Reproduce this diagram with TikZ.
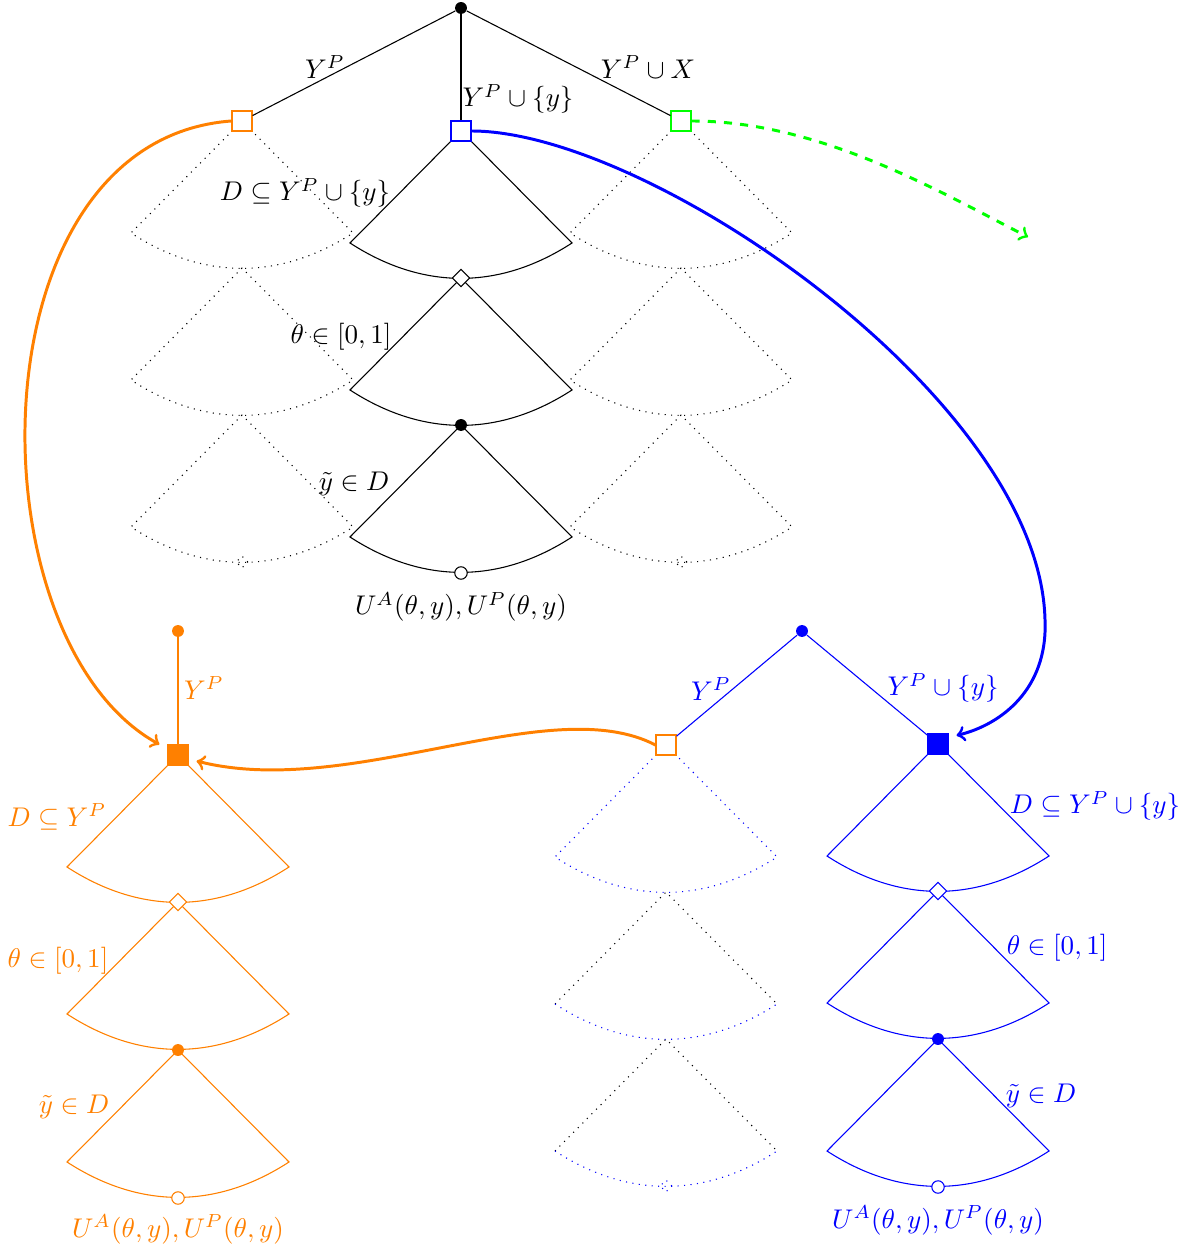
\documentclass[tikz,border=0pt]{standalone}
\usetikzlibrary{shapes.geometric}
\begin{document}
\begin{tikzpicture}[x=0.37pt,y=-0.37pt,
 sq/.style={draw=#1, rectangle, minimum size=7.4pt, inner sep=0pt, fill=white},
 fsq/.style={draw=#1, fill=#1, rectangle, minimum size=7.4pt, inner sep=0pt},
 dot/.style={circle, fill=#1, minimum size=4.4pt, inner sep=0pt},
 dot/.default=black,
 ocirc/.style={circle, draw=#1, fill=white, minimum size=4.6pt, inner sep=0pt},
 ocirc/.default=black,
 dmd/.style={diamond, draw=#1, fill=white, minimum size=6.5pt, inner sep=0pt},
 dmd/.default=black,
 sdmd/.style={diamond, draw=#1, dotted, minimum size=4.5pt, inner sep=0pt},
 sdmd/.default=black,
 lbl/.style={inner sep=1pt},
 fan/.pic={\draw[pic actions] (0,0) -- (-111,112) to[bend right=33] (111,112) -- cycle;},
 fanmix/.pic={\draw[dotted] (-111,112) -- (0,0) -- (111,112);
   \draw[dotted, blue] (-111,112) to[bend right=33] (111,112);},
 thk/.style={line width=1.1pt, ->}
]
\useasboundingbox (0,0) rectangle (1190,1251);

% ---------- top tree ----------
\foreach \yy in {121,268,415} {
  \pic[dotted] at (242,\yy) {fan};
  \pic[dotted] at (681,\yy) {fan};
}
\pic at (461,131) {fan};
\pic at (461,278) {fan};
\pic at (461,425) {fan};

\node[dot] (r) at (461,8) {};
\node[sq=orange] (a1) at (242,121) {};
\node[sq=blue] (a2) at (461,131) {};
\node[sq=green] (a3) at (681,121) {};
\draw (r) -- (a1);
\draw (r) -- (a2);
\draw (r) -- (a3);
\node[dmd] (b1) at (461,278) {};
\node[dot] (b2) at (461,425) {};
\node[ocirc] (b3) at (461,573) {};
\node[sdmd] (s1) at (242,562) {};
\node[sdmd] (s2) at (681,562) {};

\node[lbl] at (325,67) {$Y^P$};
\node[lbl] at (648,67) {$Y^P\cup X$};
\node[lbl] at (518,99) {$Y^P\cup\{y\}$};
\node[lbl] at (305,193) {$D\subseteq Y^P\cup\{y\}$};
\node[lbl] at (341,337) {$\theta\in[0,1]$};
\node[lbl] at (354,484) {$\tilde y\in D$};
\node[lbl] at (461,607) {$U^A(\theta,y),U^P(\theta,y)$};

% ---------- bottom-left tree (orange) ----------
\pic[orange] at (178,755) {fan};
\pic[orange] at (178,902) {fan};
\pic[orange] at (178,1050) {fan};
\node[dot=orange] (c0) at (178,631) {};
\node[fsq=orange] (c1) at (178,755) {};
\draw[orange] (c0) -- (c1);
\node[dmd=orange] (c2) at (178,902) {};
\node[dot=orange] (c3) at (178,1050) {};
\node[ocirc=orange] (c4) at (178,1198) {};

\begin{scope}[orange]
\node[lbl] at (204,688) {$Y^P$};
\node[lbl] at (57,817) {$D\subseteq Y^P$};
\node[lbl] at (58,961) {$\theta\in[0,1]$};
\node[lbl] at (74,1107) {$\tilde y\in D$};
\node[lbl] at (178,1229) {$U^A(\theta,y),U^P(\theta,y)$};
\end{scope}

% ---------- bottom-right tree (blue) ----------
\pic[dotted, blue] at (666,745) {fan};
\pic at (666,892) {fanmix};
\pic at (666,1039) {fanmix};
\pic[blue] at (938,744) {fan};
\pic[blue] at (938,891) {fan};
\pic[blue] at (938,1039) {fan};
\node[dot=blue] (d0) at (802,631) {};
\node[sq=orange] (d1) at (666,745) {};
\node[fsq=blue] (d2) at (938,744) {};
\draw[blue] (d0) -- (d1);
\draw[blue] (d0) -- (d2);
\node[dmd=blue] (e1) at (938,891) {};
\node[dot=blue] (e2) at (938,1039) {};
\node[ocirc=blue] (e3) at (938,1187) {};
\node[sdmd=blue] (s3) at (666,1186) {};

\begin{scope}[blue]
\node[lbl] at (711,689) {$Y^P$};
\node[lbl] at (943,688) {$Y^P\cup\{y\}$};
\node[lbl] at (1095,806) {$D\subseteq Y^P\cup\{y\}$};
\node[lbl] at (1057,948) {$\theta\in[0,1]$};
\node[lbl] at (1041,1096) {$\tilde y\in D$};
\node[lbl] at (938,1220) {$U^A(\theta,y),U^P(\theta,y)$};
\end{scope}

% ---------- connectors ----------
\draw[thk, orange] (a1.west) .. controls (-30,140) and (-30,640) .. ([shift={(-8,0)}]c1.north west);
\draw[thk, blue] (a2.east) .. controls (650,131) and (1040,400) .. (1045,620)
   .. controls (1048,690) and (1000,725) .. ([shift={(8,2)}]d2.north east);
\coordinate (g) at (1028,237);
\draw[thk, green, dashed] (a3.east) .. controls (820,121) and (940,192) .. (g);
\draw[thk, orange] (d1.west) .. controls (550,690) and (350,800) .. ([shift={(8,6)}]c1.east);
\end{tikzpicture}
\end{document}
